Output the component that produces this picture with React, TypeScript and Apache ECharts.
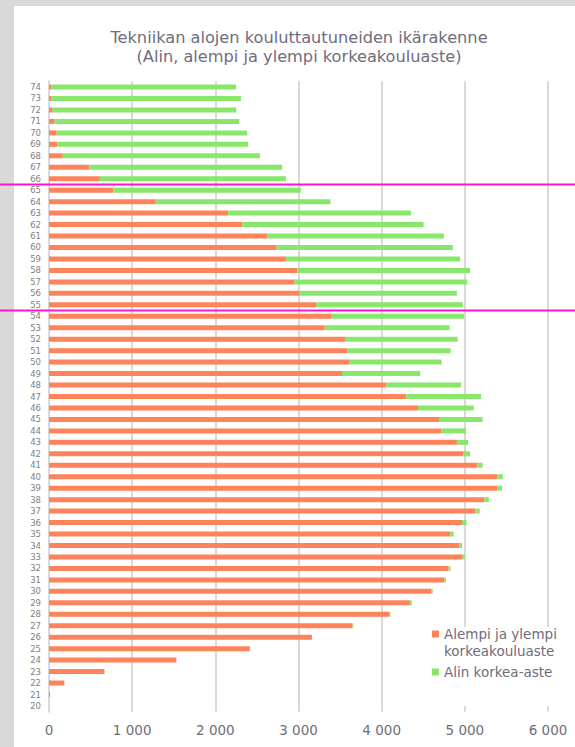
import React, { useEffect, useRef } from "react";
import * as echarts from "echarts";

// Ages (category axis, bottom to top)
const ages = [
  "20", "21", "22", "23", "24", "25", "26", "27", "28", "29",
  "30", "31", "32", "33", "34", "35", "36", "37", "38", "39",
  "40", "41", "42", "43", "44", "45", "46", "47", "48", "49",
  "50", "51", "52", "53", "54", "55", "56", "57", "58", "59",
  "60", "61", "62", "63", "64", "65", "66", "67", "68", "69",
  "70", "71", "72", "73", "74",
];

// Alempi ja ylempi korkeakouluaste (ages 20..74)
const upperDegree = [
  0, 13, 185, 667, 1532, 2415, 3161, 3647, 4088, 4340,
  4596, 4755, 4804, 4971, 4936, 4826, 4967, 5126, 5236, 5391,
  5391, 5148, 4985, 4905, 4720, 4689, 4437, 4296, 4057, 3523,
  3607, 3585, 3567, 3316, 3391, 3212, 3012, 2952, 2984, 2852,
  2736, 2628, 2328, 2156, 1284, 776, 612, 488, 164, 100,
  92, 68, 44, 24, 30,
];

// Alin korkea-aste (ages 20..74)
const lowestTertiary = [
  0, 0, 0, 0, 0, 0, 0, 13, 18, 22,
  18, 18, 22, 27, 31, 40, 53, 53, 53, 57,
  66, 66, 79, 133, 291, 525, 671, 900, 897, 941,
  1113, 1245, 1347, 1501, 1598, 1764, 1892, 2076, 2080, 2092,
  2120, 2120, 2176, 2196, 2100, 2252, 2236, 2316, 2372, 2292,
  2292, 2220, 2208, 2284, 2220,
];

const seriesNames = ["Alempi ja ylempi\nkorkeakouluaste", "Alin korkea-aste"];
const xTicks = [0, 1000, 2000, 3000, 4000, 5000, 6000];
const titleLines = [
  "Tekniikan alojen kouluttautuneiden ikärakenne",
  "(Alin, alempi ja ylempi korkeakouluaste)",
];
// Highlight boundaries (between these pairs of ages)
const highlightPairs: [string, string][] = [
  ["65", "66"],
  ["54", "55"],
];

const TEXT = "#6f6d7b";
const FONT = "DejaVu Sans, Verdana, sans-serif";

export default function App() {
  const ref = useRef<HTMLDivElement>(null);

  useEffect(() => {
    if (!ref.current) return;
    const chart = echarts.init(ref.current, undefined, { renderer: "svg" });
    const legendText = {
      color: TEXT,
      fontSize: 13.5,
      lineHeight: 17,
      fontFamily: FONT,
    };
    const legendCommon = {
      orient: "vertical",
      left: 432,
      padding: 0,
      itemWidth: 7,
      selectedMode: false,
      textStyle: legendText,
    };
    const option: any = {
      animation: false,
      textStyle: { fontFamily: FONT },
      title: {
        text: titleLines.join("\n"),
        left: 299,
        top: 27.5,
        padding: 0,
        textAlign: "center",
        textStyle: {
          color: TEXT,
          fontSize: 16.2,
          fontWeight: "normal",
          lineHeight: 19,
          fontFamily: FONT,
        },
      },
      grid: {
        left: 49,
        right: 27,
        top: 81.3,
        height: 630.4,
        containLabel: false,
      },
      legend: [
        {
          ...legendCommon,
          top: 625.5,
          itemHeight: 24,
          // square at the top of a taller (invisible) box so it sits on the first text line
          icon: "path://M0,0L7,0L7,7L0,7Z M0,24L0,24",
          data: [seriesNames[0]],
        },
        {
          ...legendCommon,
          top: 663.5,
          itemHeight: 7,
          icon: "rect",
          data: [seriesNames[1]],
        },
      ],
      xAxis: {
        type: "value",
        min: xTicks[0],
        max: xTicks[xTicks.length - 1],
        interval: 1000,
        axisLine: { show: false },
        axisTick: { show: false },
        splitLine: { lineStyle: { color: "#d9d9d9", width: 2 } },
        axisLabel: {
          color: TEXT,
          fontSize: 13.5,
          margin: 11,
          fontFamily: FONT,
          formatter: (v: number) =>
            v >= 1000 ? Math.floor(v / 1000) + " " + String(v % 1000).padStart(3, "0") : String(v),
        },
      },
      yAxis: {
        type: "category",
        data: ages,
        axisLine: { show: true, lineStyle: { color: "#d9d9d9", width: 2 } },
        axisTick: { show: false },
        axisLabel: {
          interval: 0,
          color: "#808080",
          fontSize: 8.5,
          margin: 8,
          fontFamily: FONT,
        },
      },
      series: [
        {
          name: seriesNames[0],
          type: "bar",
          stack: "total",
          data: upperDegree,
          barWidth: 5,
          itemStyle: { color: "#ff835a" },
        },
        {
          name: seriesNames[1],
          type: "bar",
          stack: "total",
          data: lowestTertiary,
          barWidth: 5,
          itemStyle: { color: "#88e66a" },
        },
      ],
    };
    chart.setOption(option);

    const lines = highlightPairs.map(([a, b], i) => {
      const ya = chart.convertToPixel({ yAxisIndex: 0 }, ages.indexOf(a)) as number;
      const yb = chart.convertToPixel({ yAxisIndex: 0 }, ages.indexOf(b)) as number;
      const y = (ya + yb) / 2;
      return {
        id: "hl" + i,
        type: "line",
        z: 10,
        shape: { x1: 0, y1: y, x2: 575, y2: y },
        style: { stroke: "#ff14c8", lineWidth: 2 },
      };
    });

    chart.setOption({
      graphic: [
        {
          id: "legendCover",
          type: "rect",
          z: 3,
          shape: { x: 425, y: 627, width: 148, height: 79 },
          style: { fill: "#ffffff" },
        },
        ...lines,
      ],
    });

    return () => chart.dispose();
  }, []);

  return (
    <div
      style={{
        position: "fixed",
        left: 0,
        top: 0,
        width: 575,
        height: 747,
        background: "#d9d9d9",
        overflow: "hidden",
      }}
    >
      <div
        style={{
          position: "absolute",
          left: 14,
          top: 6,
          right: 0,
          bottom: 0,
          background: "#ffffff",
        }}
      />
      <div
        ref={ref}
        style={{ position: "absolute", left: 0, top: 0, width: 575, height: 747 }}
      />
    </div>
  );
}
